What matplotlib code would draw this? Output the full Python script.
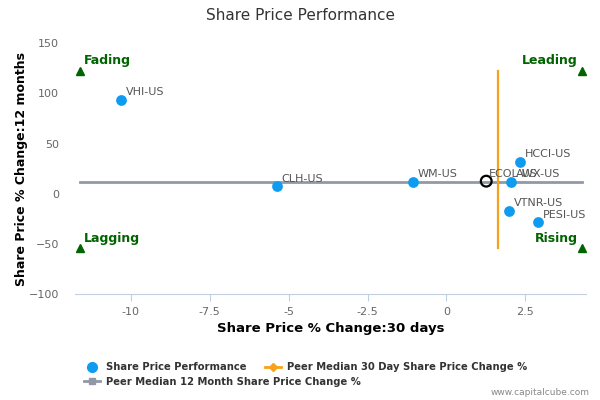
import matplotlib
matplotlib.use("Agg")
import matplotlib.pyplot as plt
from matplotlib.lines import Line2D

tickers = ["VHI-US", "CLH-US", "WM-US", "AWX-US", "HCCI-US", "VTNR-US", "PESI-US"]
chg_30d = [-10.3, -5.37, -1.06, 2.05, 2.33, 1.97, 2.89]
chg_12m = [93.4, 7.3, 11.6, 12.2, 31.5, -16.6, -28.5]

focus_ticker = "ECOL-US"
focus_30d = 1.26
focus_12m = 12.6

median_30d = 1.63
median_12m = 12.0

x_ticks = [-10, -7.5, -5, -2.5, 0, 2.5]
x_tick_labels = ["-10", "-7.5", "-5", "-2.5", "0", "2.5"]
y_ticks = [-100, -50, 0, 50, 100, 150]

quad_x = [-11.6, 4.3]
quad_y = [-54, 122]

fig = plt.figure(figsize=(6, 4), dpi=100)
ax = fig.add_axes([0.1257, 0.264, 0.851, 0.6285])
ax.set_xlim(-11.75, 4.42)
ax.set_ylim(-100, 150)

green = "#006400"
blue = "#0F9CF0"
orange = "#F7A21B"
gray = "#9299A6"

ax.plot(quad_x, [median_12m, median_12m], color=gray, lw=2, zorder=2)
ax.plot([median_30d, median_30d], quad_y, color=orange, lw=1.6, zorder=2)

ax.scatter(chg_30d, chg_12m, s=60, color=blue, zorder=3, linewidths=0)
for t, x, y in zip(tickers, chg_30d, chg_12m):
    ax.annotate(t, (x, y), xytext=(3.5, 3.5), textcoords="offset points",
                fontsize=8, color="#555555", zorder=4)
ax.scatter([focus_30d], [focus_12m], s=60, facecolors="none", edgecolors="black",
           linewidths=1.6, zorder=4)
ax.annotate(focus_ticker, (focus_30d, focus_12m), xytext=(2, 3),
            textcoords="offset points", fontsize=8, color="#555555", zorder=4)

# quadrant markers
for qx in quad_x:
    for qy in quad_y:
        ax.plot(qx, qy, marker="^", color=green, ms=6, ls="none", zorder=3, clip_on=False)
ax.annotate("Fading", (quad_x[0], quad_y[1]), xytext=(3, 3), textcoords="offset points",
            fontsize=9, color=green, fontweight="bold", ha="left", va="bottom")
ax.annotate("Lagging", (quad_x[0], quad_y[0]), xytext=(3, 2), textcoords="offset points",
            fontsize=9, color=green, fontweight="bold", ha="left", va="bottom")
ax.annotate("Leading", (quad_x[1], quad_y[1]), xytext=(-3, 3), textcoords="offset points",
            fontsize=9, color=green, fontweight="bold", ha="right", va="bottom")
ax.annotate("Rising", (quad_x[1], quad_y[0]), xytext=(-3, 2), textcoords="offset points",
            fontsize=9, color=green, fontweight="bold", ha="right", va="bottom")

for s in ["top", "right", "left"]:
    ax.spines[s].set_visible(False)
ax.spines["bottom"].set_color("#C0D0E0")
ax.set_xticks(x_ticks)
ax.set_xticklabels(x_tick_labels)
ax.set_yticks(y_ticks)
ax.tick_params(axis="x", colors="#C0D0E0", labelcolor="#666666", labelsize=8, length=5, pad=4)
ax.tick_params(axis="y", length=0, labelcolor="#666666", labelsize=8, pad=12)
ax.set_xlabel("Share Price % Change:30 days", fontsize=9.5, fontweight="bold", labelpad=4)
ax.set_ylabel("Share Price % Change:12 months", fontsize=9, fontweight="bold")
ax.yaxis.set_label_coords(-0.093, 0.5)

fig.text(0.5, 0.96, "Share Price Performance", ha="center", va="center",
         fontsize=11, color="#333333")

h1 = Line2D([], [], marker="o", color=blue, ls="none", ms=7)
h2 = Line2D([], [], marker="D", color=orange, lw=2, ms=4)
h3 = Line2D([], [], marker="s", color=gray, lw=2, ms=5)
fig.legend([h1, h2], ["Share Price Performance", "Peer Median 30 Day Share Price Change %"],
           loc="upper left", bbox_to_anchor=(0.133, 0.105), ncol=2, frameon=False,
           prop={"size": 7.2, "weight": "bold"}, labelcolor="#333333",
           handlelength=1.6, columnspacing=1.9, borderaxespad=0, handletextpad=0.6)
fig.legend([h3], ["Peer Median 12 Month Share Price Change %"],
           loc="upper left", bbox_to_anchor=(0.133, 0.068), frameon=False,
           prop={"size": 7.2, "weight": "bold"}, labelcolor="#333333",
           handlelength=1.6, borderaxespad=0, handletextpad=0.6)

fig.text(0.983, 0.008, "www.capitalcube.com", ha="right", va="bottom", fontsize=6.5, color="#888888")

fig.savefig("out.png", dpi=100)
